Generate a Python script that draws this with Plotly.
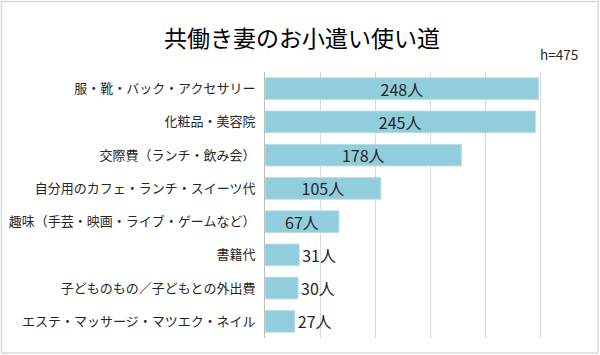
import plotly.graph_objects as go

categories = [
    "服・靴・バック・アクセサリー",
    "化粧品・美容院",
    "交際費（ランチ・飲み会）",
    "自分用のカフェ・ランチ・スイーツ代",
    "趣味（手芸・映画・ライブ・ゲームなど）",
    "書籍代",
    "子どものもの／子どもとの外出費",
    "エステ・マッサージ・マツエク・ネイル",
]
counts = [248, 245, 178, 105, 67, 31, 30, 27]
label_suffix = "人"
title_text = "共働き妻のお小遣い使い道"
n_text = "h=475"

FONT = "Noto Sans CJK JP"
W, H = 600, 355
ML, MR, MT, MB = 265, 4, 72, 17
PW = W - ML - MR
PH = H - MT - MB

positions = ["inside" if v >= 60 else "outside" for v in counts]

fig = go.Figure()
fig.add_trace(go.Bar(
    y=categories,
    x=counts,
    orientation="h",
    width=0.65,
    marker=dict(color="#92CDDC", line=dict(color="#B7DEE8", width=1)),
    text=[f"{v}{label_suffix}" for v in counts],
    textposition=positions,
    insidetextanchor="middle",
    constraintext="none",
    cliponaxis=False,
    textfont=dict(family=FONT, size=16, color="#262626"),
    insidetextfont=dict(family=FONT, size=16, color="#262626"),
    outsidetextfont=dict(family=FONT, size=16, color="#262626"),
    hoverinfo="skip",
))

fig.update_layout(
    width=W, height=H,
    margin=dict(l=ML, r=MR, t=MT, b=MB, pad=0, autoexpand=False),
    paper_bgcolor="white",
    plot_bgcolor="white",
    showlegend=False,
    font=dict(family=FONT, color="#262626"),
    xaxis=dict(
        range=[0, 300], dtick=50, showticklabels=False,
        showgrid=True, gridcolor="#D9D9D9", gridwidth=1,
        zeroline=False, showline=False, fixedrange=True, automargin=False,
    ),
    yaxis=dict(
        autorange="reversed", showline=True, linecolor="#BFBFBF", linewidth=1,
        ticks="", ticklabelstandoff=6, automargin=False,
        tickfont=dict(family=FONT, size=13, color="#262626"),
        showgrid=False, zeroline=False,
    ),
    annotations=[
        dict(text=title_text, xref="paper", yref="paper",
             x=(302 - ML) / PW, y=1 + (MT - 37) / PH, xanchor="center", yanchor="middle",
             showarrow=False, font=dict(family=FONT, size=23, color="#000000")),
        dict(text=n_text, xref="paper", yref="paper",
             x=(580 - ML) / PW, y=1 + (MT - 54) / PH, xanchor="right", yanchor="middle",
             showarrow=False, font=dict(family=FONT, size=13.5, color="#262626")),
    ],
    shapes=[
        dict(type="rect", xref="paper", yref="paper",
             x0=(1.5 - ML) / PW, x1=(598 - ML) / PW,
             y0=1 + (MT - 1.5) / PH, y1=-(353 - MT - PH) / PH,
             line=dict(color="#D9D9D9", width=1.5), fillcolor="rgba(0,0,0,0)", layer="above"),
    ],
)

fig.write_html("out.html", config={"displayModeBar": False},
               post_script="document.body.style.margin='0';")
